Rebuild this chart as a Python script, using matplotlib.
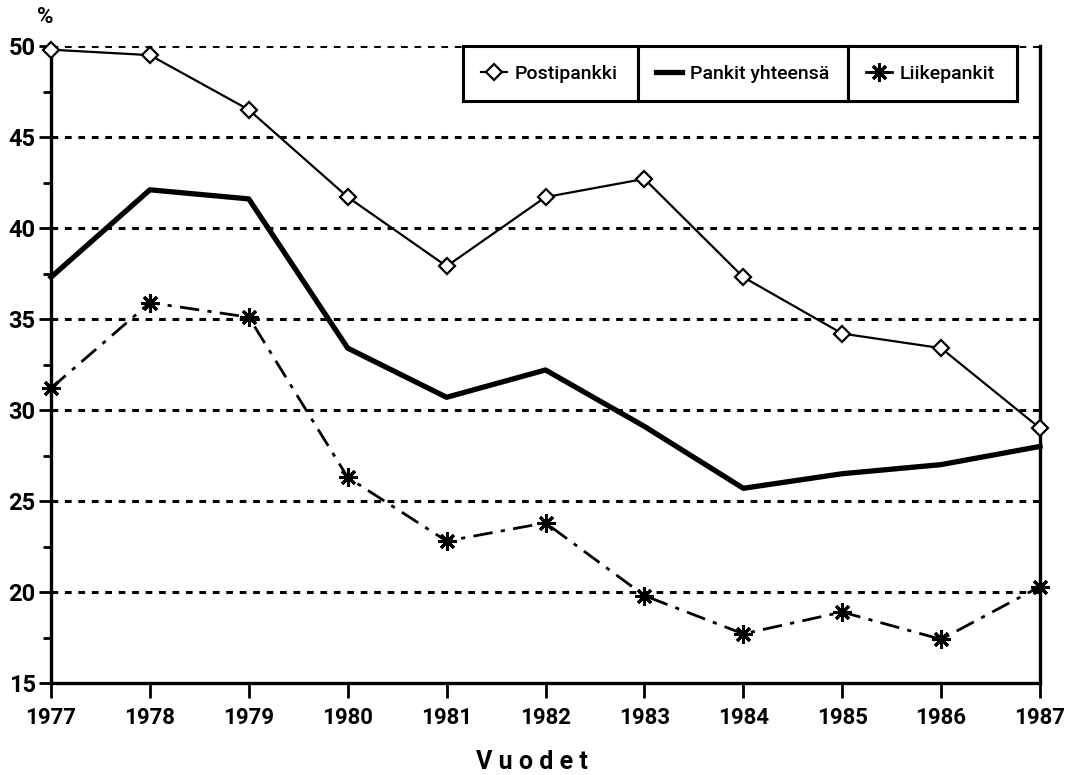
import matplotlib
matplotlib.use("Agg")
import matplotlib.pyplot as plt
from matplotlib.lines import Line2D

plt.rcParams['font.family'] = ['Roboto', 'DejaVu Sans']

years = [1977, 1978, 1979, 1980, 1981, 1982, 1983, 1984, 1985, 1986, 1987]
postipankki = [49.8, 49.5, 46.5, 41.7, 37.9, 41.7, 42.7, 37.3, 34.2, 33.4, 29.0]
pankit_yhteensa = [37.3, 42.1, 41.6, 33.4, 30.7, 32.2, 29.1, 25.7, 26.5, 27.0, 28.0]
liikepankit = [31.2, 35.9, 35.1, 26.3, 22.8, 23.8, 19.8, 17.7, 18.9, 17.4, 20.3]
y_ticks = [15, 20, 25, 30, 35, 40, 45, 50]
y_minor = [17.5, 22.5, 27.5, 32.5, 37.5, 42.5, 47.5]
labels = ["Postipankki", "Pankit yhteensä", "Liikepankit"]

fig = plt.figure(figsize=(10.67, 7.75), dpi=100)
ax = fig.add_axes([0.0478, 0.1187, 0.9269, 0.8219])

ax.set_xlim(1977, 1987)
ax.set_ylim(15, 50)

for v in y_ticks[1:]:
    ax.axhline(v, color='black', linestyle=(0, (2.2, 2.2)), linewidth=2.2, zorder=1)

ax.plot(years, postipankki, color='black', linewidth=1.6, marker='D', markersize=8,
        markerfacecolor='white', markeredgecolor='black', markeredgewidth=1.6, zorder=3, clip_on=False)
ax.plot(years, pankit_yhteensa, color='black', linewidth=3.8, zorder=3, clip_on=False)
ax.plot(years, liikepankit, color='black', linewidth=2.0, linestyle=(0, (7, 3, 1.5, 3)),
        marker=(8, 2, 0), markersize=13, markeredgewidth=2.2, zorder=3, clip_on=False)

ax.spines['top'].set_visible(False)
for s in ['left', 'bottom', 'right']:
    ax.spines[s].set_linewidth(2.4)

ax.set_yticks(y_ticks)
ax.set_yticks(y_minor, minor=True)
ax.set_xticks(years)
ax.set_xticklabels([str(y) for y in years])
ax.tick_params(axis='y', which='major', direction='out', length=9, width=2, labelsize=17, pad=2)
ax.tick_params(axis='y', which='minor', direction='out', length=6, width=2)
ax.tick_params(axis='x', which='major', direction='out', length=11, width=2, labelsize=16, pad=6)
for t in ax.get_xticklabels() + ax.get_yticklabels():
    t.set_fontweight('bold')

ax.text(-0.006, 1.045, '%', transform=ax.transAxes, fontsize=16, fontweight='bold',
        ha='center', va='center')
ax.set_xlabel('V u o d e t', fontsize=18, fontweight='bold', labelpad=0)
ax.xaxis.set_label_coords(0.486, -0.105)

handles = [
    Line2D([], [], color='black', linewidth=1.6, marker='D', markersize=8,
           markerfacecolor='white', markeredgewidth=1.6),
    Line2D([], [], color='black', linewidth=3.8),
    Line2D([], [], color='black', linewidth=2.0, marker=(8, 2, 0), markersize=13, markeredgewidth=2.2),
]
# compartment edges in axes fraction
edges = [(463 - 51) / 989, (638 - 51) / 989, (848 - 51) / 989, (1017 - 51) / 989]
top = 1.0
h = (103 - 46) / 637
for i in range(3):
    leg = ax.legend([handles[i]], [labels[i]], loc='upper left',
                    bbox_to_anchor=(edges[i], top - h, edges[i + 1] - edges[i], h),
                    mode='expand', borderaxespad=0, frameon=True, fancybox=False,
                    edgecolor='black', framealpha=1, handlelength=1.3, handletextpad=0.4,
                    borderpad=0.95, prop={'size': 14, 'weight': 'medium'})
    leg.get_frame().set_linewidth(2.2)
    leg.set_zorder(5)
    ax.add_artist(leg)

fig.savefig('out.png', dpi=100, facecolor='white')
